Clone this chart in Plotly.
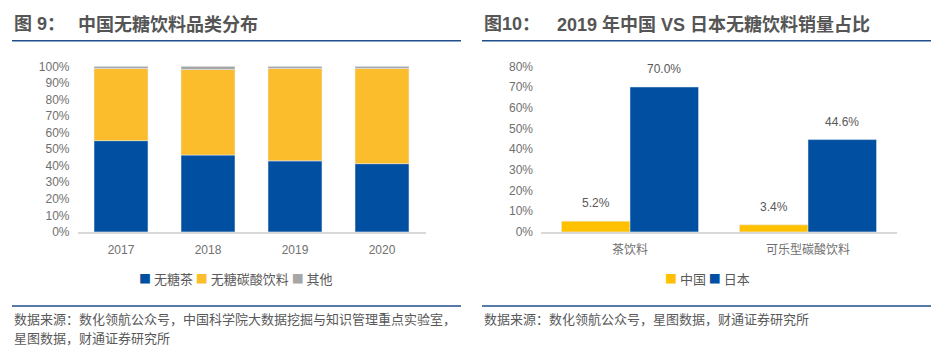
import plotly.graph_objects as go

# ---- data ----
years = ["2017", "2018", "2019", "2020"]
tea_share = [0.551, 0.464, 0.429, 0.412]
soda_share = [0.436, 0.517, 0.558, 0.575]
other_share = [0.013, 0.019, 0.013, 0.013]
left_names = ["无糖茶", "无糖碳酸饮料", "其他"]

cats2 = ["茶饮料", "可乐型碳酸饮料"]
china = [0.052, 0.034]
japan = [0.700, 0.446]
right_names = ["中国", "日本"]

left_ticks = [i / 10 for i in range(11)]
right_ticks = [i / 10 for i in range(9)]

BLUE = "#004FA0"
YELLOW_L = "#FBBD2B"
YELLOW_R = "#FFC000"
GREY = "#A6A6A6"
TXT = "#595959"
TICK = "#707070"
FONT = "Liberation Sans, Arial, Noto Sans CJK SC, sans-serif"
CJK = "Noto Sans CJK SC, Liberation Sans, sans-serif"

W, H = 940, 360
def py(y):
    return (H - y) / H
def px(x):
    return x / W

fig = go.Figure()

left_colors = [BLUE, YELLOW_L, GREY]
for name, vals, col in zip(left_names, [tea_share, soda_share, other_share], left_colors):
    fig.add_bar(x=years, y=vals, name=name, marker_color=col,
                xaxis="x", yaxis="y", width=0.62, showlegend=False)

right_colors = [YELLOW_R, BLUE]
for name, vals, col, grp in zip(right_names, [china, japan], right_colors, ["a", "b"]):
    fig.add_bar(x=cats2, y=vals, name=name, marker_color=col,
                xaxis="x2", yaxis="y2", offsetgroup=grp, showlegend=False)

annotations = []
for vals, shift in [(china, -34), (japan, 34)]:
    for c, v in zip(cats2, vals):
        annotations.append(dict(x=c, y=v, xref="x2", yref="y2", text=f"{v*100:.1f}%",
                                showarrow=False, xshift=shift, yshift=18,
                                font=dict(size=12, color=TXT, family=FONT)))

def legend_text(names, colors):
    parts = [f"<span style='color:{c};font-size:12px'>■</span> {n}" for n, c in zip(names, colors)]
    return " ".join(parts)

annotations += [
    dict(x=px(236), y=py(283), xref="paper", yref="paper",
         text=legend_text(left_names, left_colors), showarrow=False,
         xanchor="center", yanchor="middle", font=dict(size=13, color=TXT, family=CJK)),
    dict(x=px(707), y=py(283), xref="paper", yref="paper",
         text=legend_text(right_names, right_colors), showarrow=False,
         xanchor="center", yanchor="middle", font=dict(size=13, color=TXT, family=CJK)),
]

# titles & sources
annotations += [
    dict(x=px(12), y=py(18), xref="paper", yref="paper", text="<b>图 9：</b>",
         showarrow=False, xanchor="left", yanchor="middle",
         font=dict(size=18, color="#555555", family=FONT)),
    dict(x=px(76), y=py(18), xref="paper", yref="paper", text="<b>中国无糖饮料品类分布</b>",
         showarrow=False, xanchor="left", yanchor="middle",
         font=dict(size=18, color="#555555", family=FONT)),
    dict(x=px(482), y=py(18), xref="paper", yref="paper", text="<b>图10：</b>",
         showarrow=False, xanchor="left", yanchor="middle",
         font=dict(size=18, color="#555555", family=FONT)),
    dict(x=px(555), y=py(18), xref="paper", yref="paper",
         text="<b>2019 年中国 VS 日本无糖饮料销量占比</b>",
         showarrow=False, xanchor="left", yanchor="middle",
         font=dict(size=18, color="#555555", family=FONT)),
    dict(x=px(12), y=py(324), xref="paper", yref="paper",
         text="数据来源：数化领航公众号，中国科学院大数据挖掘与知识管理重点实验室，",
         showarrow=False, xanchor="left", yanchor="middle", align="left",
         font=dict(size=13, color=TXT, family=CJK)),
    dict(x=px(12), y=py(343.5), xref="paper", yref="paper",
         text="星图数据，财通证券研究所",
         showarrow=False, xanchor="left", yanchor="middle", align="left",
         font=dict(size=13, color=TXT, family=CJK)),
    dict(x=px(482), y=py(324), xref="paper", yref="paper",
         text="数据来源：数化领航公众号，星图数据，财通证券研究所",
         showarrow=False, xanchor="left", yanchor="middle", align="left",
         font=dict(size=13, color=TXT, family=CJK)),
]

shapes = []
for x0, x1 in [(12, 461), (482, 931)]:
    for yy in (35, 311):
        shapes.append(dict(type="line", xref="paper", yref="paper",
                           x0=px(x0), x1=px(x1), y0=py(yy), y1=py(yy),
                           line=dict(color="#1F4E8C", width=1.5)))

ydom = [py(234), py(61.7)]
common_y = dict(showgrid=False, zeroline=False, showline=False, tickformat=".0%",
                tickfont=dict(size=12, color=TICK, family=FONT),
                ticks="", ticklabelstandoff=7, fixedrange=True)
common_x = dict(showgrid=False, zeroline=False, showline=True, linecolor="#D9D9D9",
                linewidth=2, ticks="", ticklabelstandoff=6, fixedrange=True,
                tickfont=dict(size=12, color=TICK, family=FONT))

fig.update_layout(
    width=W, height=H, margin=dict(l=0, r=0, t=0, b=0),
    paper_bgcolor="white", plot_bgcolor="white",
    barmode="relative", bargap=0.23,
    xaxis=dict(domain=[px(77.5), px(425.5)], anchor="y", **common_x),
    yaxis=dict(domain=ydom, anchor="x", range=[0, 1], tickvals=left_ticks, **common_y),
    xaxis2=dict(domain=[px(541), px(897)], anchor="y2", **common_x),
    yaxis2=dict(domain=ydom, anchor="x2", range=[0, 0.8], tickvals=right_ticks, **common_y),
    annotations=annotations, shapes=shapes,
)

fig.write_html("out.html", config={"displayModeBar": False},
               post_script="document.body.style.margin='0';document.body.style.overflow='hidden';")
